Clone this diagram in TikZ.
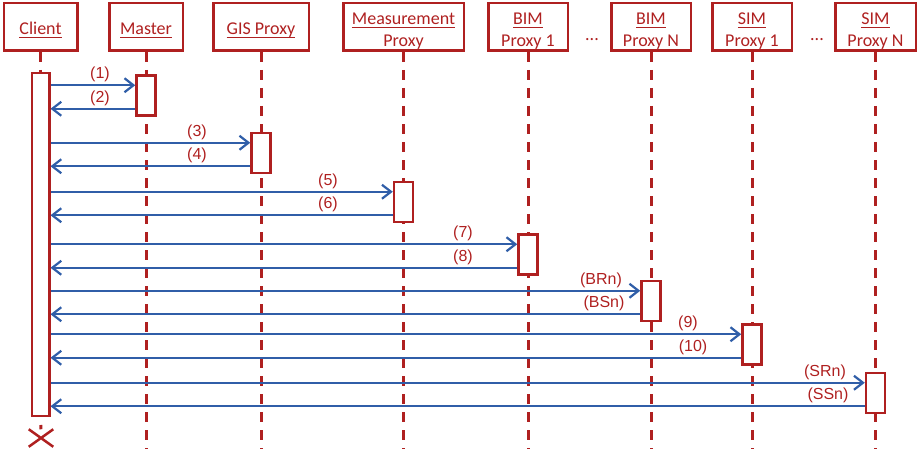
\documentclass[tikz,border=0pt]{standalone}
\usepackage{amsmath}
\usepackage{fontspec}
\setmainfont{Carlito}
\newfontfamily\lblfont{Liberation Sans}
\usetikzlibrary{arrows.meta,calc,shapes.misc}
\definecolor{seqred}{RGB}{175,32,32}
\definecolor{seqblue}{RGB}{48,94,168}
\newcommand{\ul}[1]{\underline{\smash[b]{#1}}}
\tikzset{
  hdr/.style={draw=seqred,line width=2.5pt,text=seqred,minimum height=47.5pt,inner sep=1pt,
    font=\fontsize{18pt}{22pt}\selectfont,text height=17pt,text depth=1pt},
  hdrtwo/.style={hdr,align=center,text height=42pt,text depth=2pt},
  life/.style={seqred,line width=3pt,dash pattern=on 10pt off 8pt},
  act/.style={draw=seqred,fill=white,line width=2.5pt,minimum width=19pt,minimum height=40pt,inner sep=0pt},
  msg/.style={seqblue,line width=2.2pt},
  lbl/.style={text=seqred,inner sep=0pt,above=3pt,font=\lblfont\fontsize{16pt}{18pt}\selectfont}
}
\begin{document}
\begin{tikzpicture}[x=1pt,y=-1pt,>={Straight Barb[length=9pt,width=14pt]}]
    \useasboundingbox (0,0) rectangle (919,452);
    % headers
    \node[hdr,minimum width=73.5pt] (client) at (40.5,27) {\ul{Client}};
    \node[hdr,minimum width=73.5pt] (master) at (146,27) {\ul{Master}};
    \node[hdr,minimum width=95.5pt] (gis) at (261,27) {\ul{GIS Proxy}};
    \node[hdrtwo,minimum width=120.5pt] (meas) at (403.5,27) {\ul{Measurement}\\\ul{Proxy}};
    \node[hdrtwo,minimum width=79.5pt] (bim1) at (528,27) {\ul{BIM}\\\ul{Proxy 1}};
    \node[hdrtwo,minimum width=79.5pt] (bimn) at (651,27) {\ul{BIM}\\\ul{Proxy N}};
    \node[hdrtwo,minimum width=79.5pt] (sim1) at (752,27) {\ul{SIM}\\\ul{Proxy 1}};
    \node[hdrtwo,minimum width=80.5pt] (simn) at (875.5,27) {\ul{SIM}\\\ul{Proxy N}};
    \node[text=seqred,anchor=base,font=\fontsize{18pt}{22pt}\selectfont] (dotsb) at (592,40.5) {...};
    \node[text=seqred,anchor=base,font=\fontsize{18pt}{22pt}\selectfont] (dotss) at (817,40.5) {...};
    % lifelines
    \foreach \h in {master,gis,meas,bim1,bimn,sim1,simn}{\draw[life] (\h.south) -- (\h.south |- 0,449);}
    \node[act,minimum width=17.5pt,minimum height=342.5pt] (actc) at (client.south |- 0,244.5) {};
    \node[cross out,draw=seqred,line width=2.5pt,minimum width=22pt,minimum height=15pt,inner sep=0pt] (xend) at (41,438) {};
    \draw[life] (client.south) -- (actc.north);
    \draw[life,dash phase=10pt] (actc.south) -- (xend.north);
    % activations
    \foreach \h/\a/\y in {master/actm/95.5,gis/actg/153,meas/actme/202,bim1/actb1/254.5,bimn/actbn/301,sim1/acts1/344.5,simn/actsn/393}{
      \node[act] (\a) at (\h.south |- 0,\y) {};
    }
    % messages
    \foreach \a/\lq/\lr/\xq/\xr in {actm/{(1)}/{(2)}/100/100,actg/{(3)}/{(4)}/197/197,actme/{(5)}/{(6)}/328/328,
        actb1/{(7)}/{(8)}/463/463,actbn/{(BRn)}/{(BSn)}/601/604,acts1/{(9)}/{(10)}/688/693,actsn/{(SRn)}/{(SSn)}/825/828}{
      \path ($(\a.north west)+(0,11)$) coordinate (q\a) ($(\a.south west)+(0,-8)$) coordinate (r\a);
      \draw[msg,->] (actc.east |- q\a) -- (q\a);
      \draw[msg,<-] (actc.east |- r\a) -- (r\a);
      \node[lbl] at (\xq,0 |- q\a) {\lq};
      \node[lbl] at (\xr,0 |- r\a) {\lr};
    }
  \end{tikzpicture}
\end{document}
